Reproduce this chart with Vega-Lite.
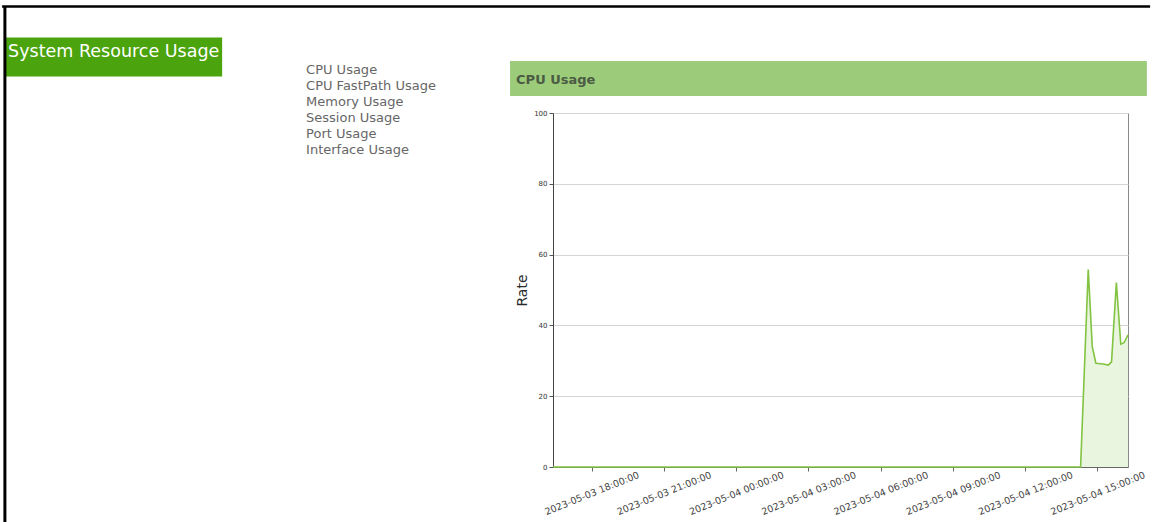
{
  "$schema": "https://vega.github.io/schema/vega-lite/v6.json",
  "autosize": {"type": "none"},
  "width": 575,
  "height": 354,
  "padding": {"left": 553, "top": 113, "right": 24, "bottom": 55},
  "background": "#ffffff",
  "config": {
    "font": "DejaVu Sans",
    "view": {"stroke": "#8a8a8a", "strokeWidth": 1}
  },
  "layer": [
    {
      "data": {
        "values": [
          {"time": "2023-05-03T16:24:00Z", "rate": 0},
          {"time": "2023-05-03T18:00:00Z", "rate": 0},
          {"time": "2023-05-03T20:00:00Z", "rate": 0},
          {"time": "2023-05-03T22:00:00Z", "rate": 0},
          {"time": "2023-05-04T00:00:00Z", "rate": 0},
          {"time": "2023-05-04T02:00:00Z", "rate": 0},
          {"time": "2023-05-04T04:00:00Z", "rate": 0},
          {"time": "2023-05-04T06:00:00Z", "rate": 0},
          {"time": "2023-05-04T08:00:00Z", "rate": 0},
          {"time": "2023-05-04T10:00:00Z", "rate": 0},
          {"time": "2023-05-04T12:00:00Z", "rate": 0},
          {"time": "2023-05-04T14:00:00Z", "rate": 0},
          {"time": "2023-05-04T14:18:00Z", "rate": 0},
          {"time": "2023-05-04T14:37:00Z", "rate": 55.8},
          {"time": "2023-05-04T14:47:00Z", "rate": 34.0},
          {"time": "2023-05-04T14:56:00Z", "rate": 29.3},
          {"time": "2023-05-04T15:14:00Z", "rate": 29.1},
          {"time": "2023-05-04T15:27:00Z", "rate": 28.8},
          {"time": "2023-05-04T15:35:00Z", "rate": 29.7},
          {"time": "2023-05-04T15:47:00Z", "rate": 52.1},
          {"time": "2023-05-04T15:58:00Z", "rate": 34.7},
          {"time": "2023-05-04T16:06:00Z", "rate": 35.1},
          {"time": "2023-05-04T16:16:00Z", "rate": 37.3}
        ]
      },
      "layer": [
        {
          "mark": {"type": "area", "color": "#eaf5e0", "opacity": 1},
          "encoding": {
            "x": {
              "field": "time", "type": "temporal", "title": null,
              "scale": {"type": "utc", "domain": [1683131040000, 1683216960000], "nice": false},
              "axis": {
                "format": "%Y-%m-%d %H:%M:%S",
                "values": [1683136800000, 1683147600000, 1683158400000, 1683169200000, 1683180000000, 1683190800000, 1683201600000, 1683212400000],
                "labelAngle": -22,
                "labelAlign": "center",
                "labelBaseline": "middle",
                "labelPadding": 22,
                "labelFontSize": 9.5,
                "labelColor": "#444444",
                "labelOverlap": false,
                "tickSize": 4,
                "tickColor": "#666666",
                "domainColor": "#666666",
                "grid": false
              }
            },
            "y": {
              "field": "rate", "type": "quantitative", "title": "Rate",
              "scale": {"domain": [0, 100], "nice": false},
              "axis": {
                "values": [0, 20, 40, 60, 80, 100],
                "labelFontSize": 7,
                "labelColor": "#333333",
                "labelPadding": 2,
                "tickSize": 4,
                "tickColor": "#555555",
                "domainColor": "#444444",
                "gridColor": "#d4d4d4",
                "titleFontSize": 14,
                "titleFontWeight": "normal",
                "titleColor": "#2a2a2a",
                "titlePadding": 4
              }
            }
          }
        },
        {
          "mark": {"type": "line", "color": "#82c341", "strokeWidth": 1.6},
          "encoding": {
            "x": {"field": "time", "type": "temporal", "title": null},
            "y": {"field": "rate", "type": "quantitative", "title": "Rate"}
          }
        }
      ]
    },
    {
      "data": {"values": [{}]},
      "layer": [
        {
          "mark": {"type": "rule", "color": "#000000", "strokeWidth": 2.5},
          "encoding": {
            "x": {"datum": 1683048720000, "type": "temporal"},
            "x2": {"datum": 1683220260000},
            "y": {"datum": 130.1, "type": "quantitative"}
          }
        },
        {
          "mark": {"type": "rect", "color": "#4ba30d"},
          "encoding": {
            "x": {"datum": 1683049140000, "type": "temporal"},
            "x2": {"datum": 1683081600000},
            "y": {"datum": 121.3, "type": "quantitative"},
            "y2": {"datum": 110.3}
          }
        },
        {
          "mark": {"type": "rule", "color": "#000000", "strokeWidth": 3},
          "encoding": {
            "x": {"datum": 1683049140000, "type": "temporal"},
            "y": {"datum": 130.1, "type": "quantitative"},
            "y2": {"datum": -16}
          }
        },
        {
          "mark": {"type": "text", "text": "System Resource Usage", "align": "left", "baseline": "alphabetic", "fontSize": 17.5, "color": "#ffffff"},
          "encoding": {
            "x": {"datum": 1683049620000, "type": "temporal"},
            "y": {"datum": 115.8, "type": "quantitative"}
          }
        },
        {
          "mark": {"type": "text", "text": ["CPU Usage", "CPU FastPath Usage", "Memory Usage", "Session Usage", "Port Usage", "Interface Usage"], "align": "left", "baseline": "alphabetic", "fontSize": 13, "lineHeight": 16, "color": "#666666"},
          "encoding": {
            "x": {"datum": 1683094140000, "type": "temporal"},
            "y": {"datum": 111.0, "type": "quantitative"}
          }
        },
        {
          "mark": {"type": "rect", "color": "#9ccc7a"},
          "encoding": {
            "x": {"datum": 1683124620000, "type": "temporal"},
            "x2": {"datum": 1683219780000},
            "y": {"datum": 114.7, "type": "quantitative"},
            "y2": {"datum": 104.8}
          }
        },
        {
          "mark": {"type": "text", "text": "CPU Usage", "align": "left", "baseline": "middle", "fontSize": 13, "fontWeight": "bold", "color": "#4b5b44"},
          "encoding": {
            "x": {"datum": 1683125520000, "type": "temporal"},
            "y": {"datum": 109.3, "type": "quantitative"}
          }
        }
      ]
    }
  ]
}
